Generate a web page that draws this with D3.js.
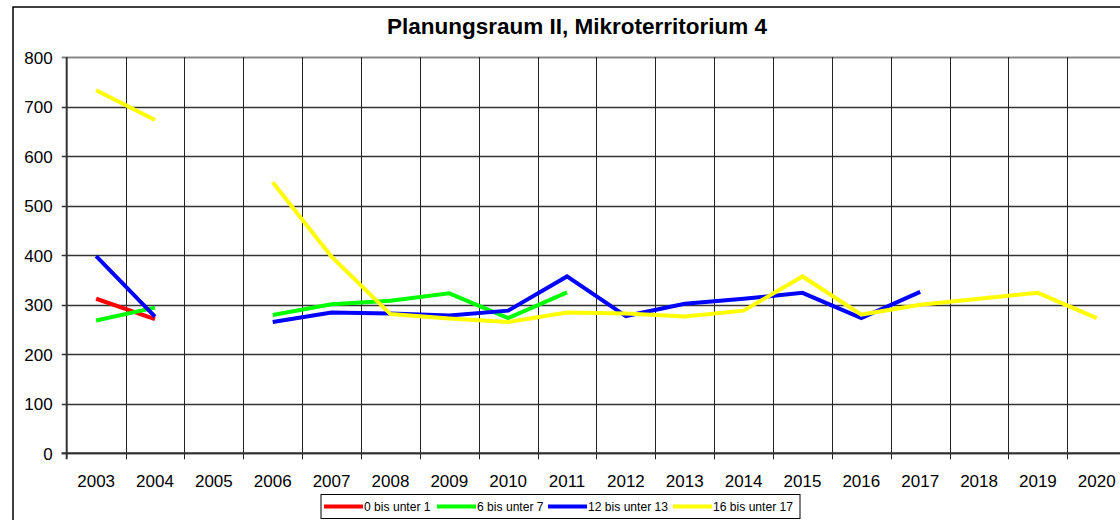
<!DOCTYPE html>
<html><head><meta charset="utf-8">
<script src="https://cdn.jsdelivr.net/npm/d3@7"></script>
<style>body{margin:0;background:#fff;}svg{display:block;font-family:"Liberation Sans",Arial,sans-serif;}</style>
</head><body>
<svg id="c" width="1120" height="520"></svg>
<script>
const years = ["2003","2004","2005","2006","2007","2008","2009","2010","2011","2012","2013","2014","2015","2016","2017","2018","2019","2020"];
const seriesNames = ["0 bis unter 1","6 bis unter 7","12 bis unter 13","16 bis unter 17"];
const seriesColors = ["#ff0000","#00ff00","#0000ff","#ffff00"];
const s0 = [312,271,null,null,null,null,null,null,null,null,null,null,null,null,null,null,null,null];
const s6 = [268,294,null,279,301,308,323,273,325,null,null,null,null,null,null,null,null,null];
const s12 = [398,276,null,265,284,282,278,288,357,277,302,312,324,273,326,null,null,null];
const s16 = [733,673,null,547,397,281,272,265,284,282,276,288,357,280,300,312,324,273];
const yTicks = [0,100,200,300,400,500,600,700,800];
const title = "Planungsraum II, Mikroterritorium 4";
const allSeries = [s0,s6,s12,s16];

const svg = d3.select("#c");
const L = 66.7, R = 1126.2, T = 57, B = 453.3;
const x = d3.scaleBand().domain(years).range([L,R]).padding(0);
const y = d3.scaleLinear().domain([0,800]).range([B,T]);

// outer border
svg.append("rect").attr("x",13).attr("y",7).attr("width",1120).attr("height",530)
  .attr("fill","none").attr("stroke","#000").attr("stroke-width",1.5);

// title
svg.append("text").attr("x",577).attr("y",34).attr("text-anchor","middle")
  .attr("font-size",22.5).attr("font-weight","bold").text(title);

// horizontal grid
svg.append("g").selectAll("line").data(yTicks).join("line")
  .attr("x1",L-5).attr("x2",R).attr("y1",d=>Math.round(y(d))+0.5).attr("y2",d=>Math.round(y(d))+0.5)
  .attr("stroke",d=>d===800?"#888":"#333").attr("stroke-width",d=>d===800?2:1.3);

// vertical grid at category boundaries
const bounds = years.map(d=>x(d)).slice(1);
svg.append("g").selectAll("line").data(bounds).join("line")
  .attr("x1",d=>Math.round(d)+0.5).attr("x2",d=>Math.round(d)+0.5).attr("y1",T).attr("y2",B+6)
  .attr("stroke","#222").attr("stroke-width",1);

// y axis labels
const yAxis = d3.axisLeft(y).tickValues(yTicks).tickSize(0).tickPadding(0);
const ga = svg.append("g").attr("transform",`translate(${L-14},0)`).call(yAxis);
ga.attr("font-size",null).attr("font-family",null);
ga.select(".domain").remove();
ga.selectAll("text").style("font-size","17px").style("font-family","Liberation Sans, Arial, sans-serif").attr("fill","#000").attr("dy","0.36em");

// x axis labels
const xAxis = d3.axisBottom(x).tickSize(0).tickPadding(0);
const gx = svg.append("g").attr("transform",`translate(0,0)`).call(xAxis);
gx.attr("font-size",null).attr("font-family",null);
gx.select(".domain").remove();
gx.selectAll("text").style("font-size","17px").style("font-family","Liberation Sans, Arial, sans-serif").attr("fill","#000").attr("y",487).attr("dy",null);

// axes lines
svg.append("line").attr("x1",L).attr("x2",L).attr("y1",T).attr("y2",B+6).attr("stroke","#333").attr("stroke-width",2);
svg.append("line").attr("x1",L-5).attr("x2",R).attr("y1",B).attr("y2",B).attr("stroke","#333").attr("stroke-width",2);

// lines
const line = d3.line().defined(d=>d.v!=null).x(d=>x(d.k)+x.bandwidth()/2).y(d=>y(d.v));
allSeries.forEach((s,i)=>{
  svg.append("path").datum(years.map((k,j)=>({k,v:s[j]})))
    .attr("d",line).attr("fill","none").attr("stroke",seriesColors[i]).attr("stroke-width",4);
});

// legend
const lg = svg.append("g");
lg.append("rect").attr("x",321).attr("y",494.5).attr("width",479).attr("height",24)
  .attr("fill","#fff").attr("stroke","#000").attr("stroke-width",1);
const lx = [324,437,548,673];
seriesNames.forEach((n,i)=>{
  lg.append("line").attr("x1",lx[i]).attr("x2",lx[i]+39).attr("y1",506.5).attr("y2",506.5)
    .attr("stroke",seriesColors[i]).attr("stroke-width",4);
  lg.append("text").attr("x",lx[i]+40).attr("y",506.5).attr("dy","0.36em")
    .attr("font-size",12.1).text(n);
});
</script>
</body></html>
